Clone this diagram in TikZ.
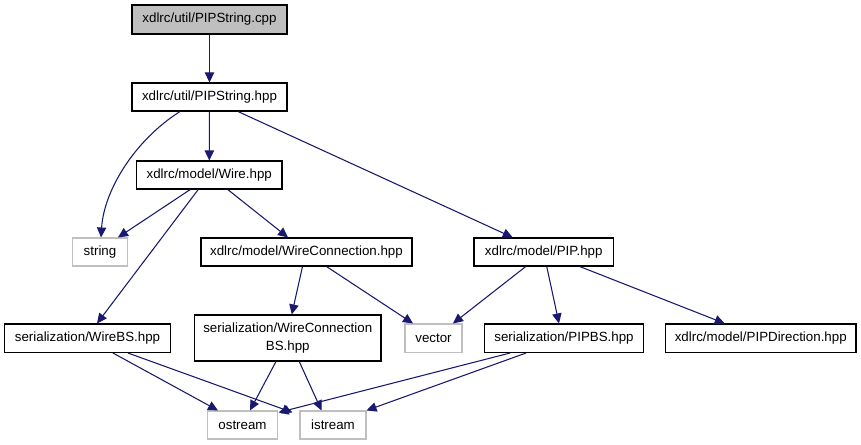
\documentclass[tikz,border=0pt]{standalone}
\usepackage{fontspec}
\setmainfont{Liberation Sans}
\usetikzlibrary{arrows.meta,calc}
\definecolor{edgeblue}{HTML}{191970}
\definecolor{sysgray}{HTML}{BFBFBF}
\tikzset{
  box/.style={draw=black, line width=0.8pt, inner sep=0pt, align=center,
    font=\fontsize{10}{13}\selectfont, minimum height=28*0.75pt},
  sysbox/.style={box, draw=sysgray},
  dep/.style={draw=edgeblue, line width=0.8pt,
    -{Triangle[length=7.5pt,width=7pt]}},
}
\begin{document}
\begin{tikzpicture}[x=0.75pt,y=-0.75pt]
\useasboundingbox (0,0) rectangle (861,445);
\fill[white] (0,0) rectangle (861,445);

\node[box, fill=sysgray, minimum width=155*0.75pt, minimum height=29*0.75pt] (cpp) at (209.5,19.5) {xdlrc/util/PIPString.cpp};
\node[box, minimum width=155*0.75pt] (hpp) at (209.5,97) {xdlrc/util/PIPString.hpp};
\node[box, minimum width=145.5*0.75pt] (wire) at (209.25,175) {xdlrc/model/Wire.hpp};
\node[sysbox, minimum width=55*0.75pt] (string) at (100,252) {string};
\node[box, minimum width=211*0.75pt] (wc) at (306.5,252) {xdlrc/model/WireConnection.hpp};
\node[box, minimum width=139.5*0.75pt] (pip) at (543.75,252) {xdlrc/model/PIP.hpp};
\node[box, minimum width=166*0.75pt, minimum height=28.5*0.75pt] (wirebs) at (87.5,338.25) {serialization/WireBS.hpp};
\node[box, minimum width=186.5*0.75pt, minimum height=46*0.75pt] (wcbs) at (287.75,338) {serialization/WireConnection\\BS.hpp};
\node[sysbox, minimum width=57*0.75pt, minimum height=28.5*0.75pt] (vector) at (433.5,338.25) {vector};
\node[box, minimum width=159*0.75pt, minimum height=28.5*0.75pt] (pipbs) at (564,338.25) {serialization/PIPBS.hpp};
\node[box, minimum width=190.5*0.75pt, minimum height=28.5*0.75pt] (pipdir) at (760.75,338.25) {xdlrc/model/PIPDirection.hpp};
\node[sysbox, minimum width=70*0.75pt] (ostream) at (242.5,425) {ostream};
\node[sysbox, minimum width=66*0.75pt] (istream) at (333,425) {istream};

\draw[dep] (cpp) -- (hpp);
\draw[dep] (hpp) -- (wire);
\draw[dep] ($(hpp.south)+(-29.5,0)$) .. controls (135,140) and (104,190) .. ($(string.north)+(1,0)$);
\draw[dep] ($(hpp.south)+(28.5,0)$) -- ($(pip.north)+(-31,0)$);
\draw[dep] ($(wire.south)+(-19,0)$) -- ($(string.north)+(18,0)$);
\draw[dep] ($(wire.south)+(18.5,0)$) -- ($(wc.north)+(-18.5,0)$);
\draw[dep] ($(wire.south)+(-11,0)$) -- ($(wirebs.north)+(9.5,0)$);
\draw[dep] ($(wc.south)+(-4,0)$) -- ($(wcbs.north)+(4,0)$);
\draw[dep] ($(wc.south)+(20,0)$) -- ($(vector.north)+(-20.5,0)$);
\draw[dep] ($(pip.south)+(-18,0)$) -- ($(vector.north)+(19.5,0)$);
\draw[dep] ($(pip.south)+(3,0)$) -- ($(pipbs.north)+(-5,0)$);
\draw[dep] ($(pip.south)+(36,0)$) -- ($(pipdir.north)+(-36,0)$);
\draw[dep] ($(wirebs.south)+(25.5,0)$) -- ($(ostream.north)+(-24.5,0)$);
\draw[dep] ($(wirebs.south)+(40.5,0)$) -- ($(istream.north west)+(-7,2)$);
\draw[dep] ($(wcbs.south)+(-11.75,0)$) -- ($(ostream.north)+(7.5,0)$);
\draw[dep] ($(wcbs.south)+(11.5,0)$) -- ($(istream.north)+(-11.5,0)$);
\draw[dep] ($(pipbs.south)+(-54,0)$) -- ($(ostream.north east)+(0.5,2)$);
\draw[dep] ($(pipbs.south)+(-38,0)$) -- (istream.north east);
\end{tikzpicture}
\end{document}
